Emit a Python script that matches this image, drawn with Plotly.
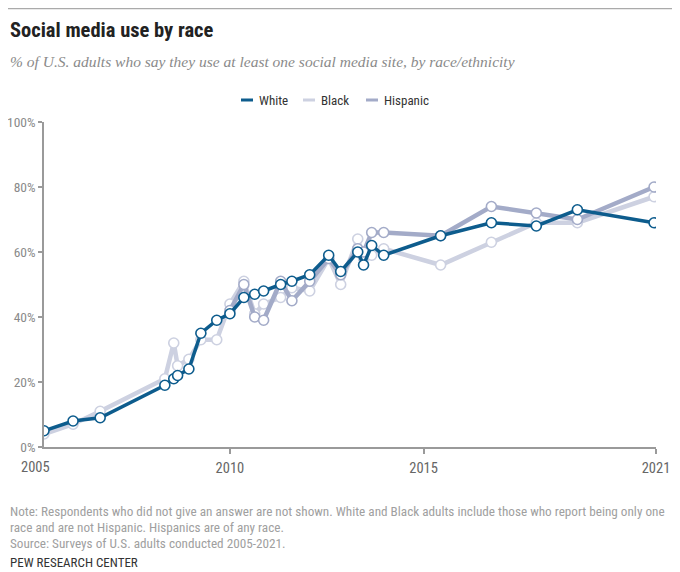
import plotly.graph_objects as go

# survey dates as decimal years
dates = [2005.2, 2005.95, 2006.65, 2008.32, 2008.55, 2008.65, 2008.94, 2009.25,
         2009.66, 2010.0, 2010.36, 2010.64, 2010.87, 2011.31, 2011.6, 2012.06,
         2012.55, 2012.86, 2013.3, 2013.45, 2013.66, 2013.97, 2015.44, 2016.75,
         2017.91, 2018.97, 2020.95]

white = [5, 8, 9, 19, 21, 22, 24, 35, 39, 41, 46, 47, 48, 50, 51, 53,
         59, 54, 60, 56, 62, 59, 65, 69, 68, 73, 69]
black = [4, 7, 11, 21, 32, 25, 27, 33, 33, 44, 51, 41, 44, 46, 49, 48,
         58, 50, 64, 58, 59, 61, 56, 63, 69, 69, 77]
# hispanic series starts in 2010
hisp_dates = dates[9:]
hispanic = [42, 50, 40, 39, 51, 45, 51, 58, 53, 61, 60, 66, 66, 65, 74, 72, 70, 80]

year_ticks = [2010, 2015, 2021]
first_year = "2005"
pct_ticks = [0, 20, 40, 60, 80, 100]

colors = {"White": "#0d5c8d", "Black": "#cdd1e1", "Hispanic": "#a3abc8"}

# drawing order: light lines underneath, White on top
series = [
    ("Black", dates, black, 4.5),
    ("Hispanic", hisp_dates, hispanic, 4.5),
    ("White", dates, white, 3.5),
]

FONT = "Liberation Sans Narrow, Roboto Condensed, Liberation Sans, Arial, sans-serif"

# plot area is 612 x 325 px inside a 672 x 564 figure
L, T, PW, PH = 36, 114, 612, 325


def px(x):
    return (x - L) / PW


def py(y):
    return 1 - (y - T) / PH


fig = go.Figure()
for name, xs, ys, w in series:
    col = colors[name]
    fig.add_trace(go.Scatter(
        x=xs, y=ys, mode="lines+markers", name=name, showlegend=False,
        line=dict(color=col, width=w),
        marker=dict(size=10, color="white", line=dict(color=col, width=1.6)),
        hovertemplate=name + ": %{y}%<extra></extra>"))

fig.update_xaxes(
    range=[2005.2, 2021.0], tickvals=year_ticks, ticktext=[str(y) for y in year_ticks],
    showgrid=False, zeroline=False, showline=True, linecolor="#9a9a9a", linewidth=1.5,
    ticks="outside", ticklen=5, tickcolor="#9a9a9a", tickwidth=1.5, automargin=False,
    tickfont=dict(size=14.5, color="#666666", family=FONT), ticklabelstandoff=2)
fig.update_yaxes(
    range=[0, 100], tickvals=pct_ticks, ticktext=[f"{p}%" for p in pct_ticks],
    showgrid=False, zeroline=False, showline=True, linecolor="#9a9a9a", linewidth=1.5,
    ticks="outside", ticklen=4, tickcolor="#9a9a9a", tickwidth=1.5, automargin=False,
    tickfont=dict(size=13.5, color="#8a8a8a", family=FONT), ticklabelstandoff=0)

notes = [
    "Note: Respondents who did not give an answer are not shown. White and Black adults include those who report being only one",
    "race and are not Hispanic. Hispanics are of any race.",
    "Source: Surveys of U.S. adults conducted 2005-2021.",
]

annotations = [
    dict(text="<b>Social media use by race</b>", x=px(0), y=py(22), xanchor="left",
         font=dict(size=20.5, color="#222222", family=FONT)),
    dict(text="<i>% of U.S. adults who say they use at least one social media site, by race/ethnicity</i>",
         x=px(0), y=py(53), xanchor="left",
         font=dict(size=15.5, color="#8a8a8a", family="Liberation Serif, serif")),
    dict(text="PEW RESEARCH CENTER", x=px(0), y=py(554), xanchor="left",
         font=dict(size=13, color="#333333", family=FONT)),
    # first year label sits just left of where the axis starts
    dict(text=first_year, x=px(27), y=py(459), xanchor="center",
         font=dict(size=14.5, color="#666666", family=FONT)),
]
for i, line in enumerate(notes):
    annotations.append(dict(text=line, x=px(0), y=py(503 + 16 * i), xanchor="left",
                            font=dict(size=13.2, color="#a0a0a0", family=FONT)))

# legend drawn by hand: short line swatch + label
shapes = [dict(type="line", xref="paper", yref="paper", x0=px(0), x1=px(664),
               y0=py(0.5), y1=py(0.5), line=dict(color="#aaaaaa", width=1.5))]
legend_pos = {"White": 233, "Black": 295, "Hispanic": 358}
for name in ["White", "Black", "Hispanic"]:
    x0 = legend_pos[name]
    shapes.append(dict(type="line", xref="paper", yref="paper", x0=px(x0), x1=px(x0 + 12),
                       y0=py(92), y1=py(92), line=dict(color=colors[name], width=3)))
    annotations.append(dict(text=name, x=px(x0 + 16), y=py(92), xanchor="left",
                            font=dict(size=13, color="#333333", family=FONT)))

for a in annotations:
    a.update(xref="paper", yref="paper", yanchor="middle", showarrow=False)

fig.update_layout(
    width=672, height=564,
    margin=dict(l=L, r=672 - L - PW, t=T, b=564 - T - PH),
    paper_bgcolor="white", plot_bgcolor="white",
    font=dict(family=FONT),
    showlegend=False,
    shapes=shapes,
    annotations=annotations,
)

fig.write_html("out.html")
